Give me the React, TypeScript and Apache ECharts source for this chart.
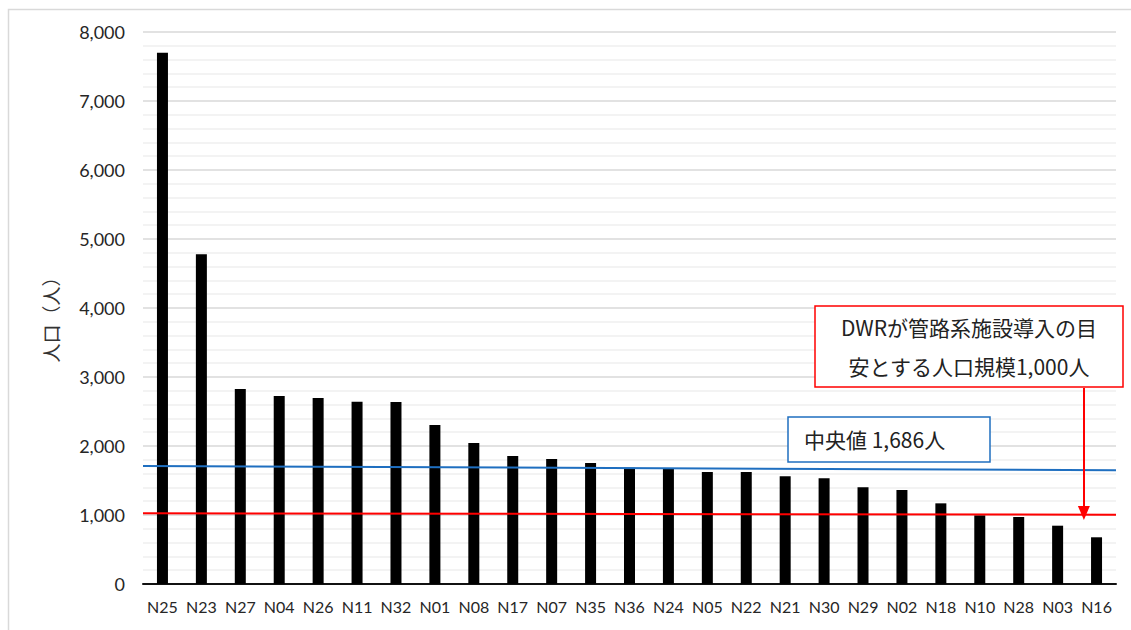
import React, { useEffect, useRef } from "react";
import * as echarts from "echarts";

// 地区別人口（降順）
const districts = [
  "N25", "N23", "N27", "N04", "N26", "N11", "N32", "N01", "N08", "N17", "N07", "N35", "N36",
  "N24", "N05", "N22", "N21", "N30", "N29", "N02", "N18", "N10", "N28", "N03", "N16",
];
const population = [
  7700, 4780, 2826, 2725, 2696, 2640, 2638, 2304, 2043, 1855, 1812, 1754, 1686,
  1680, 1625, 1622, 1561, 1532, 1401, 1362, 1169, 995, 971, 845, 677,
];

// 参考線（左端・右端の値）
const medianLine = [1710, 1648];
const thresholdLine = [1025, 1004];
// 注記から基準線への矢印（横位置は0〜1、縦は人口値）
const arrowX = 0.967;
const arrowFrom = 2841;
const arrowTo = 1030;

const yTicks = { min: 0, max: 8000, interval: 1000 };

const textFont = "Lato, 'Noto Sans CJK JP', sans-serif";
const jpFont = "'Noto Sans CJK JP', Lato, sans-serif";

export default function App() {
  const ref = useRef<HTMLDivElement>(null);

  useEffect(() => {
    if (!ref.current) return;
    const chart = echarts.init(ref.current, undefined, { renderer: "svg" });
    chart.setOption({
      animation: false,
      backgroundColor: "#ffffff",
      grid: { left: 143, right: 15, top: 32, bottom: 46 },
      xAxis: [
        {
          type: "category",
          data: districts,
          axisLine: { lineStyle: { color: "#111", width: 2 } },
          axisTick: { show: false },
          axisLabel: { color: "#262626", fontSize: 16, fontFamily: textFont, margin: 14, interval: 0 },
          splitLine: { show: false },
        },
        {
          type: "value",
          min: 0,
          max: 1,
          show: false,
          position: "bottom",
        },
      ],
      yAxis: {
        type: "value",
        min: yTicks.min,
        max: yTicks.max,
        interval: yTicks.interval,
        axisLine: { show: false },
        axisTick: { show: false },
        axisLabel: {
          color: "#262626",
          fontSize: 18,
          fontFamily: textFont,
          margin: 18,
          formatter: (v: number) => v.toLocaleString("en-US"),
        },
        splitLine: { lineStyle: { color: "#d9d9d9", width: 1.5 } },
        minorTick: { show: false, splitNumber: 5 },
        minorSplitLine: { show: true, lineStyle: { color: "#efefef", width: 1.5 } },
      },
      series: [
        {
          type: "bar",
          data: population,
          barWidth: 11,
          itemStyle: { color: "#000" },
        },
        {
          type: "line",
          xAxisIndex: 1,
          data: [[0, medianLine[0]], [1, medianLine[1]]],
          showSymbol: false,
          lineStyle: { color: "#1f6fc0", width: 2 },
        },
        {
          type: "line",
          xAxisIndex: 1,
          data: [[0, thresholdLine[0]], [1, thresholdLine[1]]],
          showSymbol: false,
          lineStyle: { color: "#ff0000", width: 2 },
          markLine: {
            silent: true,
            symbol: ["none", "triangle"],
            symbolSize: [12, 14],
            symbolRotate: 180,
            label: { show: false },
            lineStyle: { color: "#ff0000", width: 2, type: "solid" },
            data: [[{ coord: [arrowX, arrowFrom] }, { coord: [arrowX, arrowTo] }]],
          },
        },
      ],
      graphic: [
        {
          type: "rect",
          shape: { x: 8.5, y: 9.5, width: 1140, height: 640 },
          style: { fill: "none", stroke: "#d9d9d9", lineWidth: 1.5 },
          z: 0,
        },
        {
          type: "text",
          x: 50,
          y: 315,
          rotation: Math.PI / 2,
          style: {
            text: "人口（人）",
            fontSize: 19,
            fontFamily: jpFont,
            fill: "#333",
            align: "center",
            verticalAlign: "middle",
          },
        },
        {
          type: "rect",
          shape: { x: 815, y: 306, width: 308, height: 81 },
          style: { fill: "#fff", stroke: "#ff0000", lineWidth: 1.5 },
          z: 10,
        },
        {
          type: "text",
          x: 969,
          y: 327,
          style: {
            text: "DWRが管路系施設導入の目",
            fontSize: 21,
            fontFamily: jpFont,
            fill: "#222",
            align: "center",
            verticalAlign: "middle",
          },
          z: 11,
        },
        {
          type: "text",
          x: 969,
          y: 366,
          style: {
            text: "安とする人口規模1,000人",
            fontSize: 21,
            fontFamily: jpFont,
            fill: "#222",
            align: "center",
            verticalAlign: "middle",
          },
          z: 11,
        },
        {
          type: "rect",
          shape: { x: 788, y: 417, width: 202, height: 45 },
          style: { fill: "#fff", stroke: "#1f6fc0", lineWidth: 1.5 },
          z: 10,
        },
        {
          type: "text",
          x: 804,
          y: 439,
          style: {
            text: "中央値 1,686人",
            fontSize: 21,
            fontFamily: jpFont,
            fill: "#222",
            align: "left",
            verticalAlign: "middle",
          },
          z: 11,
        },
      ],
    });
    return () => chart.dispose();
  }, []);

  return (
    <div
      ref={ref}
      style={{ position: "absolute", left: 0, top: 0, width: 1131, height: 630 }}
    />
  );
}
